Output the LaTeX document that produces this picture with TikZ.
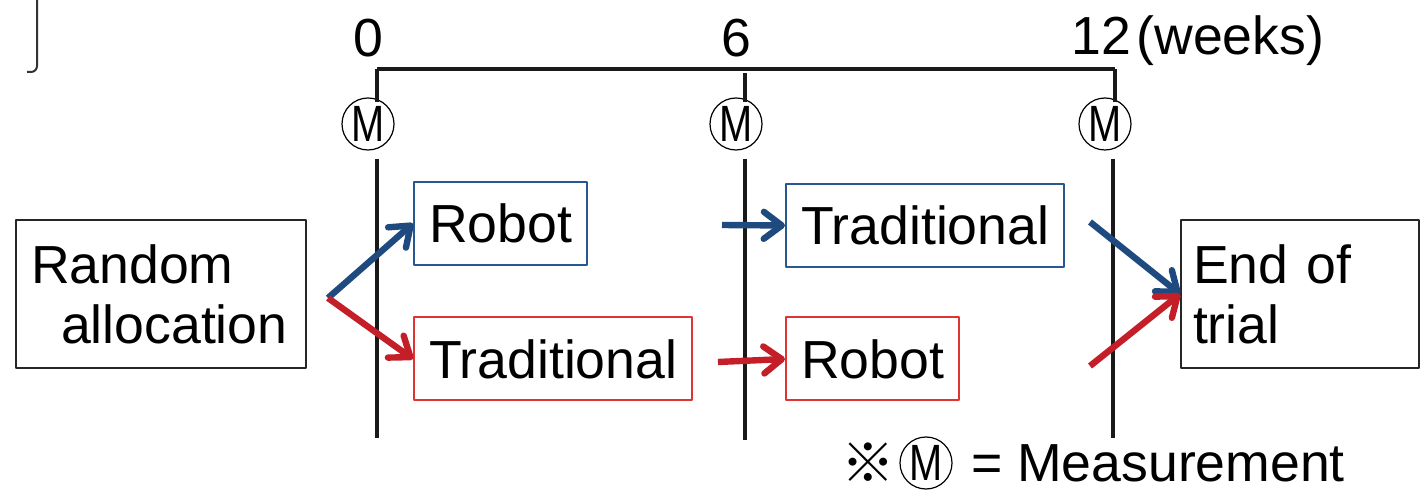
\documentclass[tikz,border=0pt]{standalone}
\usepackage{fontspec}
\setmainfont{Liberation Sans}
\newfontfamily\cjkfont{Noto Sans CJK JP}
\usetikzlibrary{arrows.meta,positioning}
\definecolor{arrowblue}{RGB}{30,74,128}
\definecolor{arrowred}{RGB}{196,30,40}
\definecolor{boxblue}{RGB}{40,88,145}
\definecolor{boxred}{RGB}{222,52,52}
\tikzset{
  every node/.style={font=\fontsize{26.8bp}{30bp}\selectfont},
  armbox/.style={draw,line width=1bp,inner xsep=7.5bp,minimum height=41.5bp,anchor=west},
  bigbox/.style={draw=black!85,line width=1bp,align=left,minimum height=74bp,anchor=west},
  ticklabel/.style={inner sep=0pt,anchor=base},
  meas/.style={draw,circle,line width=0.6bp,inner sep=0pt,minimum size=26bp,
    font=\fontsize{25.5bp}{25.5bp}\selectfont},
  axis/.style={line width=1.6bp,black!90},
}
\newcommand{\mletter}{\raisebox{-0.2bp}{\scalebox{0.78}[1]{M}}}
\begin{document}
\begin{tikzpicture}[>={Straight Barb[length=9bp,width=13.5bp,round]},line join=bevel,]
\useasboundingbox (0bp,0bp) rectangle (710bp,245.5bp);
%%
\draw [line width=1bp,black!80,rounded corners=3bp] (18.5bp,245.5bp) -- (18.5bp,209.5bp) -- (13.5bp,209.5bp);
%
\coordinate (t_0) at (188.5bp,211bp);
  \coordinate (t_6) at (372.5bp,211bp);
  \coordinate (t_12) at (557.5bp,211bp);
  \draw [axis,line width=1.8bp] (t_0) -- (t_12);
  \node (lab_0) at (184bp,217bp) [ticklabel] {0};
  \node (lab_6) at (368bp,217bp) [ticklabel] {6};
  \node (lab_12) at (550.5bp,218bp) [ticklabel] {12};
  \node (weeks) at ([xshift=2.5bp]lab_12.base east) [inner sep=0pt,anchor=base west] {(weeks)};
%
\node (m_0) at (184bp,183.5bp) [meas] {\mletter};
  \node (m_6) at (368bp,183.5bp) [meas] {\mletter};
  \node (m_12) at (552.5bp,183.5bp) [meas] {\mletter};
  \draw [axis] (t_0) -- ++(0bp,-16.5bp);
  \draw [axis] ([yshift=-2bp]t_6) -- ++(0bp,-14.5bp);
  \draw [axis] (t_12) -- ++(0bp,-16.5bp);
  \draw [axis] (188.5bp,166bp) -- (188.5bp,26.5bp);
  \draw [axis] (372.5bp,166bp) -- (372.5bp,25.5bp);
  \draw [axis] (556.5bp,166bp) -- (556.5bp,26.5bp);
%
\node (alloc) at (7.5bp,98.5bp) [bigbox,text width=130bp,inner xsep=7.5bp] {Random\\\hspace*{15bp}allocation};
  \node (robot_a) at (206.5bp,133.75bp) [armbox,draw=boxblue] {Robot};
  \node (trad_a) at (206.5bp,66bp) [armbox,draw=boxred] {Traditional};
  \node (trad_b) at (392.5bp,132.75bp) [armbox,draw=boxblue] {Traditional};
  \node (robot_b) at (392.5bp,66bp) [armbox,draw=boxred] {Robot};
  \node (end) at (590bp,98.5bp) [bigbox,text width=107bp,inner xsep=6bp] {End of\\trial};
%
\coordinate (split) at (164bp,96.5bp);
  \coordinate (from_a) at (361bp,133bp);
  \coordinate (from_b) at (359bp,64.5bp);
  \coordinate (from_c) at (545bp,134.5bp);
  \coordinate (from_d) at (545bp,62.5bp);
  \draw [arrowblue,line width=3.2bp,->] (split) -- (robot_a.west);
  \draw [arrowred,line width=3.2bp,->] (split) -- (trad_a.west);
  \draw [arrowblue,line width=3.2bp,->] (from_a) -- (trad_b.west);
  \draw [arrowred,line width=3.2bp,->] (from_b) -- (robot_b.west);
  \draw [arrowblue,line width=3.2bp,->] (from_c) -- (end.west);
  \draw [arrowred,line width=3.2bp,->] (from_d) -- (end.west);
%
\node (leg_m) at (463bp,14bp) [meas] {\mletter};
  \node (leg_mark) [left=2bp of leg_m,inner sep=0pt] {\cjkfont ※};
  \node (leg_text) [right=9bp of leg_m,inner sep=0pt] {= Measurement};
%
\end{tikzpicture}
\end{document}
